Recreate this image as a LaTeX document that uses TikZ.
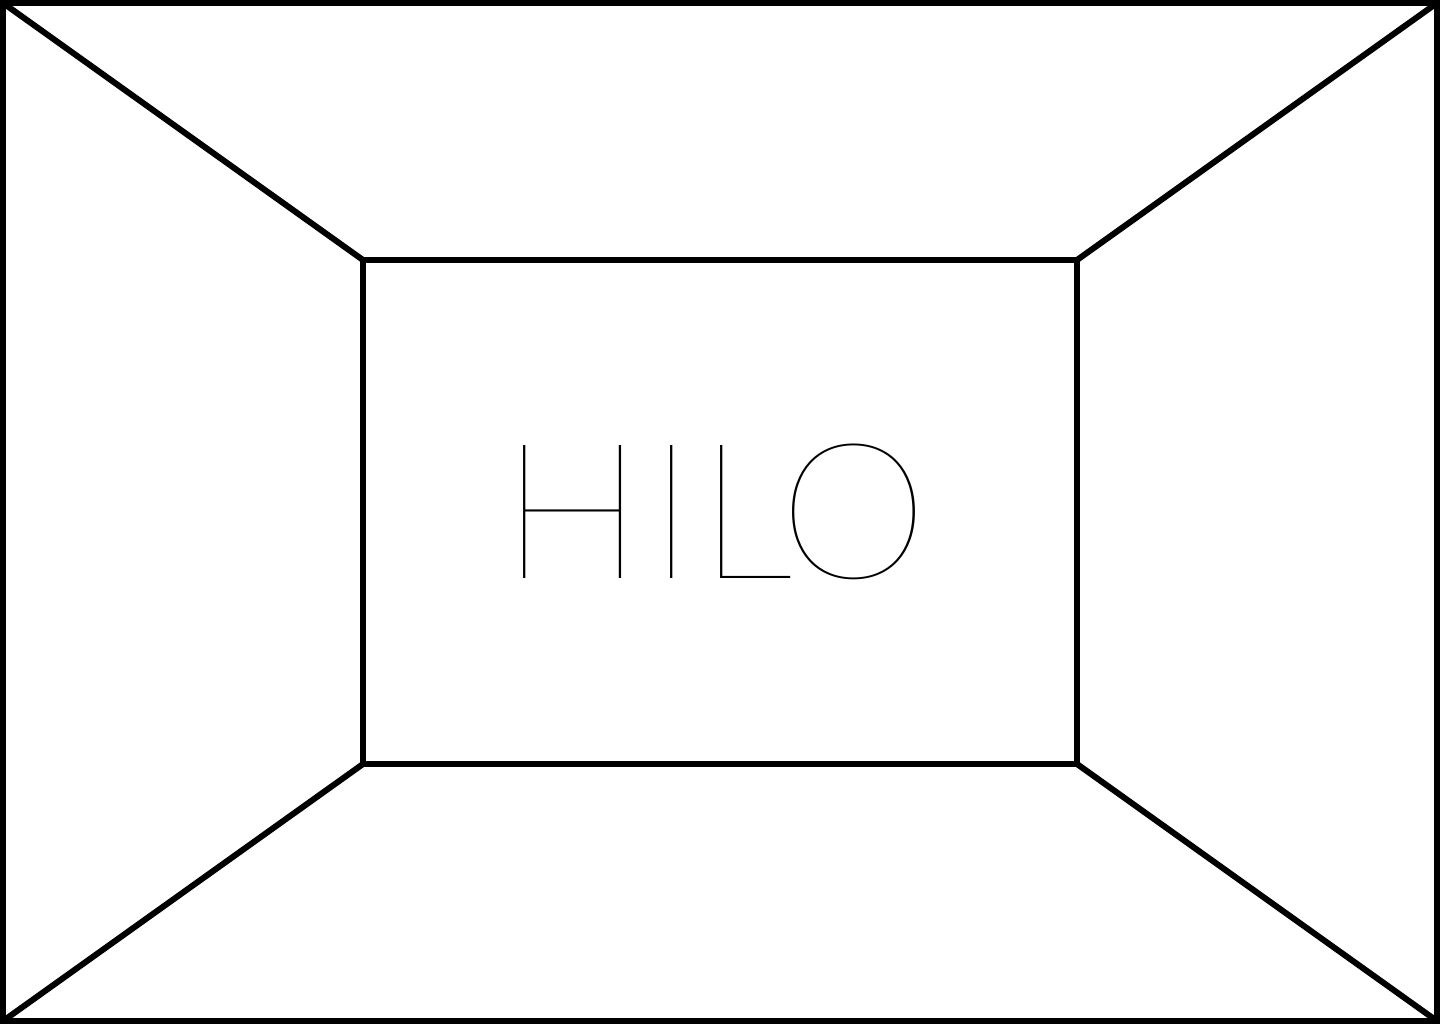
\documentclass[tikz,border=0pt]{standalone}
\usepackage{fontspec}
\newfontfamily\hilofont{Lato Thin}
\begin{document}
\begin{tikzpicture}[x=0.5pt,y=-0.5pt,
  frame/.style={draw=black,line width=3pt,inner sep=0pt,outer sep=0pt},
  edge/.style={draw=black,line width=3pt,line cap=round},
  label/.style={font=\hilofont\fontsize{95}{95}\selectfont,inner sep=0pt}]
\useasboundingbox (0,0) rectangle (1440,1024);
\node[frame,minimum width=1434*0.5pt,minimum height=1018*0.5pt] (outer) at (720,512) {};
\node[frame,minimum width=714*0.5pt,minimum height=504*0.5pt] (inner) at (720,512) {};
\draw[edge] (outer.north west) -- (inner.north west);
\draw[edge] (outer.north east) -- (inner.north east);
\draw[edge] (outer.south west) -- (inner.south west);
\draw[edge] (outer.south east) -- (inner.south east);
\node[label] (title) at (715,512) {H\kern2.5pt I\kern2pt L\kern-7pt O};
\end{tikzpicture}
\end{document}
